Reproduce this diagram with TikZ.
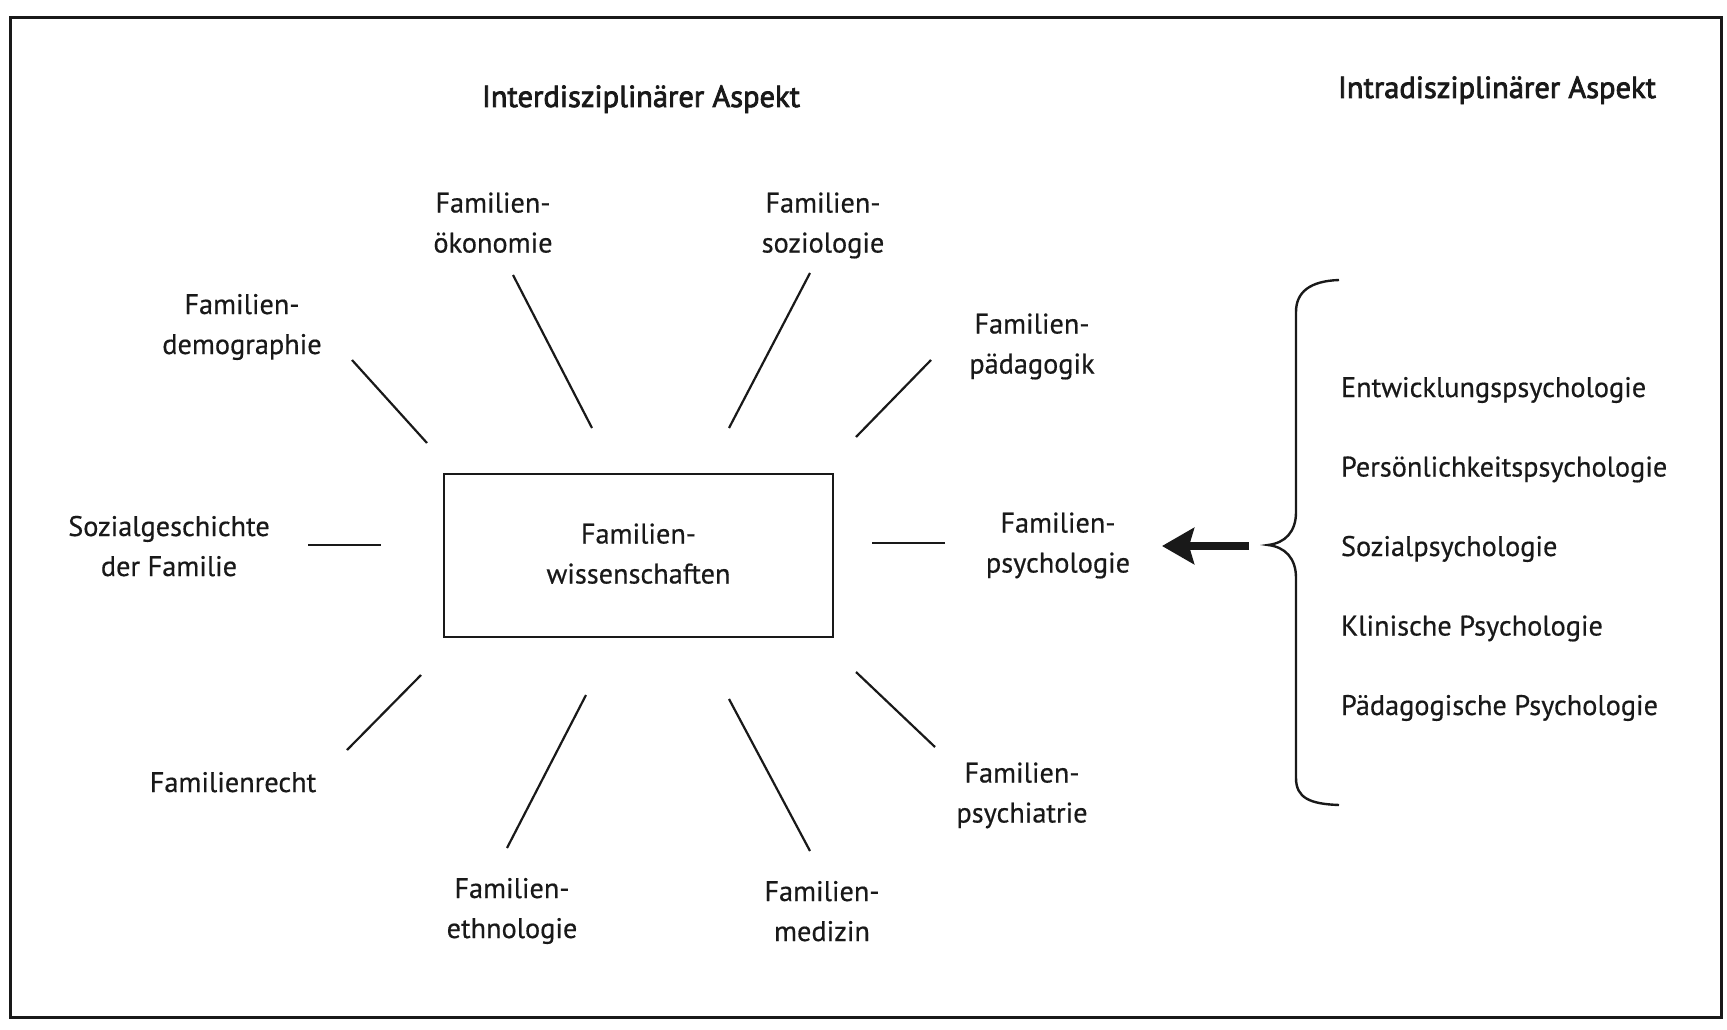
\documentclass[tikz,border=0pt]{standalone}
\usepackage{fontspec}
\setmainfont[FakeBold=0.5]{PT Sans}
\newfontfamily\headfont[FakeBold=2.5]{PT Sans}
\usetikzlibrary{arrows.meta}
\begin{document}
\begin{tikzpicture}[x=1pt,y=-1pt,
  every node/.style={inner sep=0pt, outer sep=0pt},
  txt/.style={font=\fontsize{28.3}{40}\selectfont, text=black!90},
  lbl/.style={txt, align=center},
  item/.style={txt, anchor=base west},
  head/.style={font=\headfont\fontsize{30.5}{40}\selectfont, anchor=base, text=black!90},
  spoke/.style={line width=2.2pt, black!90},
  centerbox/.style={lbl, draw=black!90, line width=2.6pt, minimum width=389pt, minimum height=163pt},
  bigarrow/.style={line width=8pt, black!90, -{Stealth[length=32pt, width=36pt, inset=5pt]}},
  bracepath/.style={line width=2.4pt, black!90}
]
\useasboundingbox (0,0) rectangle (1727,1030);
\draw[line width=3pt, black!90] (10,18) rectangle (1721,1017);

% headings
\node[head] (inter) at (641,107) {Interdisziplinärer Aspekt};
\node[head] (intra) at (1497,98) {Intradisziplinärer Aspekt};

% centre
\node[centerbox] (fw) at (638.5,555.5) {\strut Familien-\\\strut wissenschaften};

% labels
\node[lbl] (dem) at (242,326) {\strut Familien-\\\strut demographie};
\node[lbl] (oek) at (493,224.5) {\strut Familien-\\\strut ökonomie};
\node[lbl] (soz) at (823,224.5) {\strut Familien-\\\strut soziologie};
\node[lbl] (paed) at (1032,345.5) {\strut Familien-\\\strut pädagogik};
\node[lbl] (sg) at (169,548) {\strut Sozialgeschichte\\\strut der Familie};
\node[lbl] (psy) at (1058,544.5) {\strut Familien-\\\strut psychologie};
\node[txt, anchor=base] (recht) at (233,792) {Familienrecht};
\node[lbl] (eth) at (512,910) {\strut Familien-\\\strut ethnologie};
\node[lbl] (med) at (822,913) {\strut Familien-\\\strut medizin};
\node[lbl] (psych) at (1022,794.5) {\strut Familien-\\\strut psychiatrie};

% right list
\node[item] (i1) at (1341,397) {Entwicklungspsychologie};
\node[item] (i2) at (1341,476.5) {Persönlichkeitspsychologie};
\node[item] (i3) at (1341,556) {Sozialpsychologie};
\node[item] (i4) at (1341,635.5) {Klinische Psychologie};
\node[item] (i5) at (1341,715) {Pädagogische Psychologie};

% spoke end points
\coordinate (demA) at (352,360);  \coordinate (demB) at (427,443);
\coordinate (oekA) at (513,275);  \coordinate (oekB) at (592,428);
\coordinate (sozA) at (810,273);  \coordinate (sozB) at (729,428);
\coordinate (paedA) at (931,360); \coordinate (paedB) at (856,437);
\coordinate (sgA) at (308,545);   \coordinate (sgB) at (381,545);
\coordinate (psyA) at (945,543);  \coordinate (psyB) at (872,543);
\coordinate (rechtA) at (347,750); \coordinate (rechtB) at (421,675);
\coordinate (ethA) at (507,848);  \coordinate (ethB) at (586,695);
\coordinate (medA) at (810,851);  \coordinate (medB) at (729,699);
\coordinate (psychA) at (935,747); \coordinate (psychB) at (856,672);

\foreach \s in {dem,oek,soz,paed,sg,psy,recht,eth,med,psych}
  \draw[spoke] (\s A) -- (\s B);

% brace
\coordinate (brTop) at (1339,280);
\coordinate (brTip) at (1268,545);
\coordinate (brBot) at (1339,805);
\draw[bracepath] (brTop) .. controls (1310,281) and (1296,292) .. (1296,312)
  -- (1296,512) .. controls (1296,532) and (1285,543) .. (brTip)
  .. controls (1285,547) and (1296,558) .. (1296,578)
  -- (1296,778) .. controls (1296,798) and (1310,804) .. (brBot);

% arrow
\coordinate (arrS) at (1249,546);
\coordinate (arrT) at (1162,546);
\draw[bigarrow] (arrS) -- (arrT);
\end{tikzpicture}
\end{document}
